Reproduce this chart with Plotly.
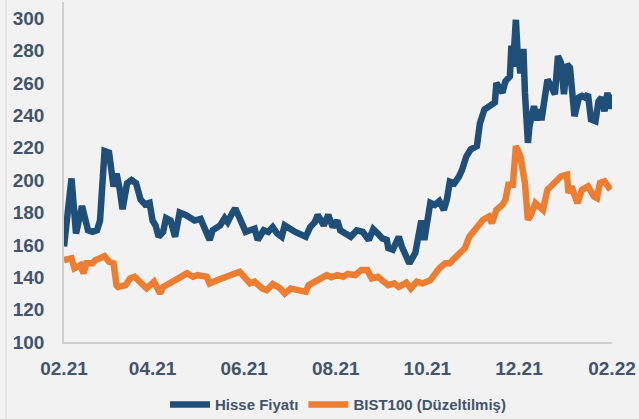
import plotly.graph_objects as go

# Hisse Fiyatı (stock price)
hisse_dates = [
    "2021-02-01", "2021-02-06", "2021-02-09", "2021-02-13", "2021-02-17", "2021-02-20", "2021-02-23",
    "2021-02-25", "2021-02-28", "2021-03-03", "2021-03-06", "2021-03-08", "2021-03-10", "2021-03-12",
    "2021-03-15", "2021-03-18", "2021-03-21", "2021-03-24", "2021-03-27", "2021-03-30", "2021-04-01",
    "2021-04-03", "2021-04-05", "2021-04-08", "2021-04-10", "2021-04-13", "2021-04-16", "2021-04-19",
    "2021-04-23", "2021-04-29", "2021-05-03", "2021-05-06", "2021-05-09", "2021-05-11", "2021-05-16",
    "2021-05-19", "2021-05-21", "2021-05-24", "2021-05-26", "2021-05-29", "2021-06-02", "2021-06-05",
    "2021-06-08", "2021-06-10", "2021-06-14", "2021-06-17", "2021-06-20", "2021-06-23", "2021-06-26",
    "2021-06-28", "2021-07-02", "2021-07-05", "2021-07-12", "2021-07-15", "2021-07-18", "2021-07-20",
    "2021-07-24", "2021-07-27", "2021-07-30", "2021-08-02", "2021-08-04", "2021-08-07", "2021-08-11",
    "2021-08-15", "2021-08-19", "2021-08-23", "2021-08-26", "2021-08-29", "2021-09-01", "2021-09-04",
    "2021-09-05", "2021-09-08", "2021-09-12", "2021-09-14", "2021-09-19", "2021-09-23", "2021-09-25",
    "2021-09-27", "2021-09-29", "2021-10-03", "2021-10-06", "2021-10-09", "2021-10-12", "2021-10-14",
    "2021-10-16", "2021-10-19", "2021-10-22", "2021-10-24", "2021-10-27", "2021-10-30", "2021-11-03",
    "2021-11-05", "2021-11-08", "2021-11-12", "2021-11-15", "2021-11-16", "2021-11-20", "2021-11-22",
    "2021-11-25", "2021-11-26", "2021-11-27", "2021-11-29", "2021-11-30", "2021-12-02", "2021-12-04",
    "2021-12-05", "2021-12-07", "2021-12-08", "2021-12-11", "2021-12-13", "2021-12-15", "2021-12-16",
    "2021-12-20", "2021-12-22", "2021-12-25", "2021-12-27", "2021-12-29", "2021-12-31", "2022-01-02",
    "2022-01-04", "2022-01-06", "2022-01-07", "2022-01-10", "2022-01-12", "2022-01-14", "2022-01-16",
    "2022-01-18", "2022-01-21", "2022-01-23", "2022-01-25", "2022-01-27", "2022-01-29", "2022-01-30",
    "2022-01-31",
]
hisse_values = [
    159, 201, 167, 184, 169, 168, 169,
    175, 218, 217, 196, 204, 195, 182,
    198, 200, 198, 188, 185, 186, 175,
    172, 165, 168, 176.5, 175, 165, 180,
    178.5, 175, 176, 170, 163, 169, 172,
    176.5, 174, 179.5, 182.5, 176.5, 168, 169,
    170, 163, 169, 168, 171, 167, 165,
    172, 169, 168, 165, 171, 174, 178.5,
    172, 178.5, 171, 175, 169, 167, 165,
    169, 168, 163, 169.7, 167, 164, 163,
    158, 157, 165, 159, 148.6, 155, 163,
    175, 163, 186, 184.7, 187, 181.6, 188,
    199, 198, 202, 206, 214.7, 219, 221,
    235, 243.6, 245.7, 248, 260, 254, 261,
    264, 283, 270, 299, 281, 266, 281,
    254, 223, 233, 245.7, 237, 243.6, 237,
    262, 259, 253, 276.6, 272.5, 253, 271.5,
    269.4, 250, 239.4, 251, 252, 251, 253,
    237.4, 236.3, 248.7, 251, 242.5, 254, 244,
    253,
]

# BIST100 (Düzeltilmiş)
bist_dates = [
    "2021-02-01", "2021-02-06", "2021-02-08", "2021-02-12", "2021-02-14", "2021-02-16", "2021-02-20",
    "2021-02-22", "2021-02-25", "2021-02-28", "2021-03-03", "2021-03-06", "2021-03-08", "2021-03-09",
    "2021-03-14", "2021-03-17", "2021-03-20", "2021-03-25", "2021-03-28", "2021-04-02", "2021-04-06",
    "2021-04-08", "2021-04-12", "2021-04-16", "2021-04-21", "2021-04-24", "2021-04-28", "2021-05-01",
    "2021-05-07", "2021-05-09", "2021-05-14", "2021-05-18", "2021-05-21", "2021-05-25", "2021-05-29",
    "2021-06-02", "2021-06-05", "2021-06-08", "2021-06-13", "2021-06-16", "2021-06-20", "2021-06-25",
    "2021-06-28", "2021-07-02", "2021-07-06", "2021-07-12", "2021-07-14", "2021-07-18", "2021-07-22",
    "2021-07-26", "2021-07-29", "2021-08-02", "2021-08-06", "2021-08-09", "2021-08-14", "2021-08-18",
    "2021-08-22", "2021-08-25", "2021-08-29", "2021-09-01", "2021-09-05", "2021-09-09", "2021-09-12",
    "2021-09-17", "2021-09-20", "2021-09-24", "2021-09-28", "2021-10-03", "2021-10-06", "2021-10-09",
    "2021-10-13", "2021-10-16", "2021-10-19", "2021-10-23", "2021-10-26", "2021-10-29", "2021-11-03",
    "2021-11-07", "2021-11-11", "2021-11-13", "2021-11-16", "2021-11-20", "2021-11-22", "2021-11-24",
    "2021-11-27", "2021-11-29", "2021-12-02", "2021-12-05", "2021-12-07", "2021-12-09", "2021-12-12",
    "2021-12-14", "2021-12-17", "2021-12-20", "2021-12-23", "2021-12-26", "2021-12-29", "2022-01-02",
    "2022-01-03", "2022-01-05", "2022-01-09", "2022-01-12", "2022-01-16", "2022-01-20", "2022-01-22",
    "2022-01-24", "2022-01-27", "2022-01-31",
]
bist_values = [
    150.6, 151.7, 145.5, 147.5, 142.4, 148.6, 148.6,
    150.6, 151.7, 153, 149.6, 148.6, 135, 134,
    135.1, 139.3, 140.3, 136.2, 133.1, 137.2, 130,
    134, 136.2, 138.2, 140.3, 142.4, 140.3, 141.3,
    140.3, 136.2, 138.2, 139.3, 140.3, 142, 143.4,
    139.3, 136.2, 137.2, 133.1, 132, 135.8, 133.1,
    130, 133.1, 132.5, 131, 135.1, 137.2, 140.3,
    141.3, 140, 141.3, 140.3, 142, 141.3, 144.4,
    144.4, 139.3, 140.3, 138.2, 135.1, 136.2, 134,
    136.6, 133.1, 137.2, 136.2, 138.2, 142.4, 145.5,
    148.6, 148.6, 151.7, 155.8, 157.9, 165, 170.3,
    175.4, 177.5, 173.4, 181.6, 184.7, 187.8, 197.1,
    197.1, 221, 214.7, 198.2, 175.4, 178.5, 185.8,
    183.7, 181.6, 194, 197.1, 200.2, 202.3, 203.3,
    192, 196.1, 185.8, 194, 196.1, 189.9, 188.9,
    198.2, 199.2, 194,
]

y_ticks = [100, 120, 140, 160, 180, 200, 220, 240, 260, 280, 300]

TEXT = "#44546A"
FONT = "Liberation Sans, Arial, sans-serif"

fig = go.Figure()
fig.add_trace(go.Scatter(
    x=hisse_dates, y=hisse_values, mode="lines", name="Hisse Fiyatı",
    line=dict(color="#1F4E79", width=6.5),
))
fig.add_trace(go.Scatter(
    x=bist_dates, y=bist_values, mode="lines", name="BIST100 (Düzeltilmiş)",
    line=dict(color="#ED7D31", width=6.5),
))

fig.update_layout(
    width=639, height=419,
    margin=dict(l=64, r=27, t=2, b=77, autoexpand=False),
    paper_bgcolor="#F2F2F2", plot_bgcolor="#F2F2F2",
    font=dict(family=FONT, color=TEXT),
    showlegend=True,
    legend=dict(
        orientation="h", x=0.5, xanchor="center",
        yref="container", y=0.034, yanchor="middle",
        font=dict(size=15, color=TEXT, weight="bold"),
        bgcolor="rgba(0,0,0,0)", itemwidth=40,
    ),
    xaxis=dict(
        type="date", range=["2021-02-01", "2022-02-01"],
        tick0="2021-02-01", dtick="M2", tickformat="%m.%y",
        showgrid=False, zeroline=False,
        showline=True, linecolor="#D0D0D0", linewidth=1.5,
        ticks="", ticklabelstandoff=8,
        tickfont=dict(size=19, color=TEXT, weight="bold"),
    ),
    yaxis=dict(
        range=[100, 310], tickvals=y_ticks,
        showgrid=False, zeroline=False,
        showline=True, linecolor="#D0D0D0", linewidth=1.5,
        ticks="", ticklabelstandoff=14,
        tickfont=dict(size=19, color=TEXT, weight="bold"),
    ),
    shapes=[dict(
        type="line", xref="paper", yref="paper",
        x0=(6 - 64) / 548, x1=(6 - 64) / 548, y0=-77 / 340, y1=342 / 340,
        line=dict(color="#D9D9D9", width=1),
    )],
)

fig.write_html("out.html")
